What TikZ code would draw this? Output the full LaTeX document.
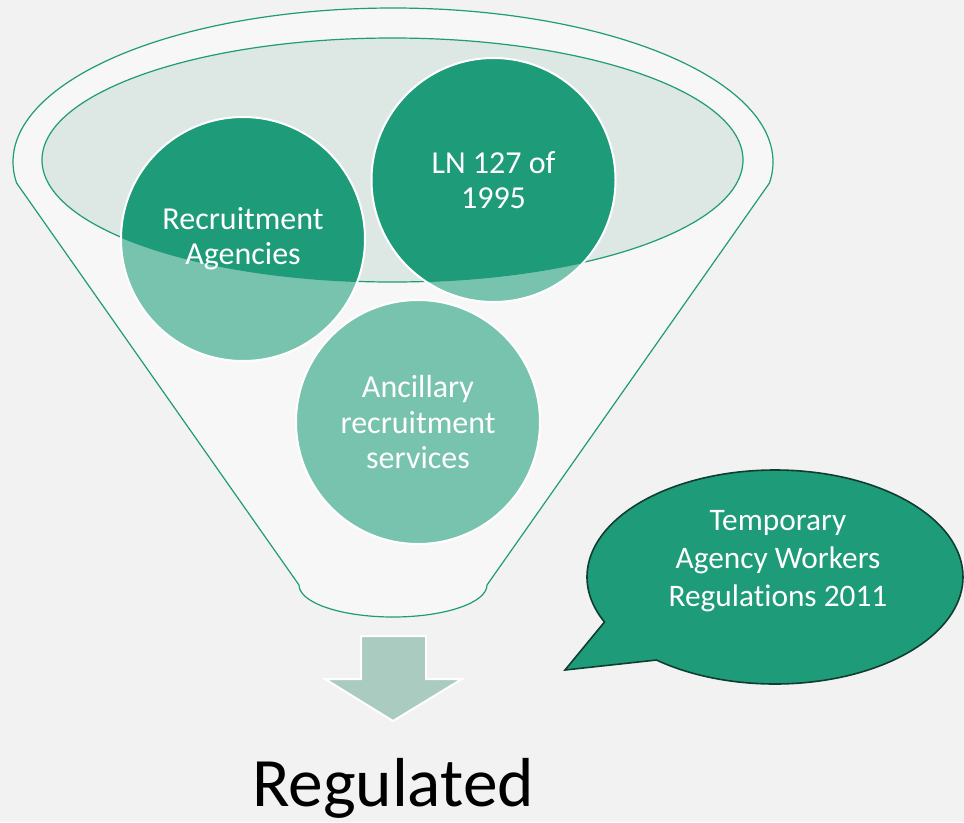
\documentclass[tikz,border=0pt]{standalone}
\usepackage{fontspec}
\setmainfont[Ligatures=NoCommon]{Carlito}
\usetikzlibrary{shapes.callouts}
\definecolor{bgGray}{HTML}{F2F2F2}
\definecolor{funnelWhite}{HTML}{F7F7F7}
\definecolor{agencyGreen}{HTML}{1E9B78}
\definecolor{lightGreen}{HTML}{78C3AE}
\definecolor{rimGreen}{HTML}{DDE7E3}
\definecolor{arrowGreen}{HTML}{AACBBF}
\definecolor{calloutEdge}{HTML}{0F3D30}
\begin{document}
\begin{tikzpicture}[x=0.75pt, y=-0.75pt,
        rim/.style={draw=agencyGreen, line width=0.9pt},
        disc/.style={circle, draw=white, line width=1.5pt, minimum size=183pt, inner sep=0pt, align=center, text=white, font=\fontsize{24}{26.3}\selectfont},
        bubble/.style={ellipse callout, draw=calloutEdge, line width=1.2pt, fill=agencyGreen, minimum width=282pt, minimum height=160.5pt},
        bubbletext/.style={align=center, text=white, font=\fontsize{23.5}{28.5}\selectfont}
    ]
        \useasboundingbox (0,0) rectangle (964,822);
        \fill[bgGray] (0,0) rectangle (964,822);
        \filldraw[rim, fill=funnelWhite] (16.6,183) arc[start angle=172.16, end angle=367.84, x radius=380, y radius=154]
            -- (487,585) arc[start angle=0, end angle=180, x radius=94, y radius=32] -- cycle;
        \fill[rimGreen] (392.5,160) ellipse[x radius=350.5, y radius=122];
        \coordinate (c1) at (243,239);
        \coordinate (c2) at (493.5,180);
        \coordinate (c3) at (418,422);
        \foreach \c in {c1,c2,c3}
            \fill[lightGreen] (\c) circle[radius=122];
        \begin{scope}
            \clip (392.5,160) ellipse[x radius=350.5, y radius=122];
            \foreach \c in {c1,c2}
                \fill[agencyGreen] (\c) circle[radius=122];
        \end{scope}
        \draw[rim] (392.5,160) ellipse[x radius=350.5, y radius=122];
        \node[disc] (agencies) at (c1) {Recruitment\\Agencies};
        \node[disc] (ln) at (c2) {LN 127 of\\1995};
        \node[disc] (ancillary) at (c3) {Ancillary\\recruitment\\services};
        \filldraw[draw=white, line width=1.5pt, fill=arrowGreen] (361,636) -- (426,636) -- (426,679) -- (462,679)
            -- (393,721) -- (325,679) -- (361,679) -- cycle;
        \node[anchor=base, font=\fontsize{52}{60}\selectfont] (regulated) at (393,806) {Regulated};
        \coordinate (tip) at (565,670);
        \node[bubble, callout absolute pointer={(tip)}, callout pointer arc=26] (taw) at (775,577) {};
        \node[bubbletext] (tawtext) at (778,561) {Temporary\\Agency Workers\\Regulations 2011};
    \end{tikzpicture}
\end{document}
